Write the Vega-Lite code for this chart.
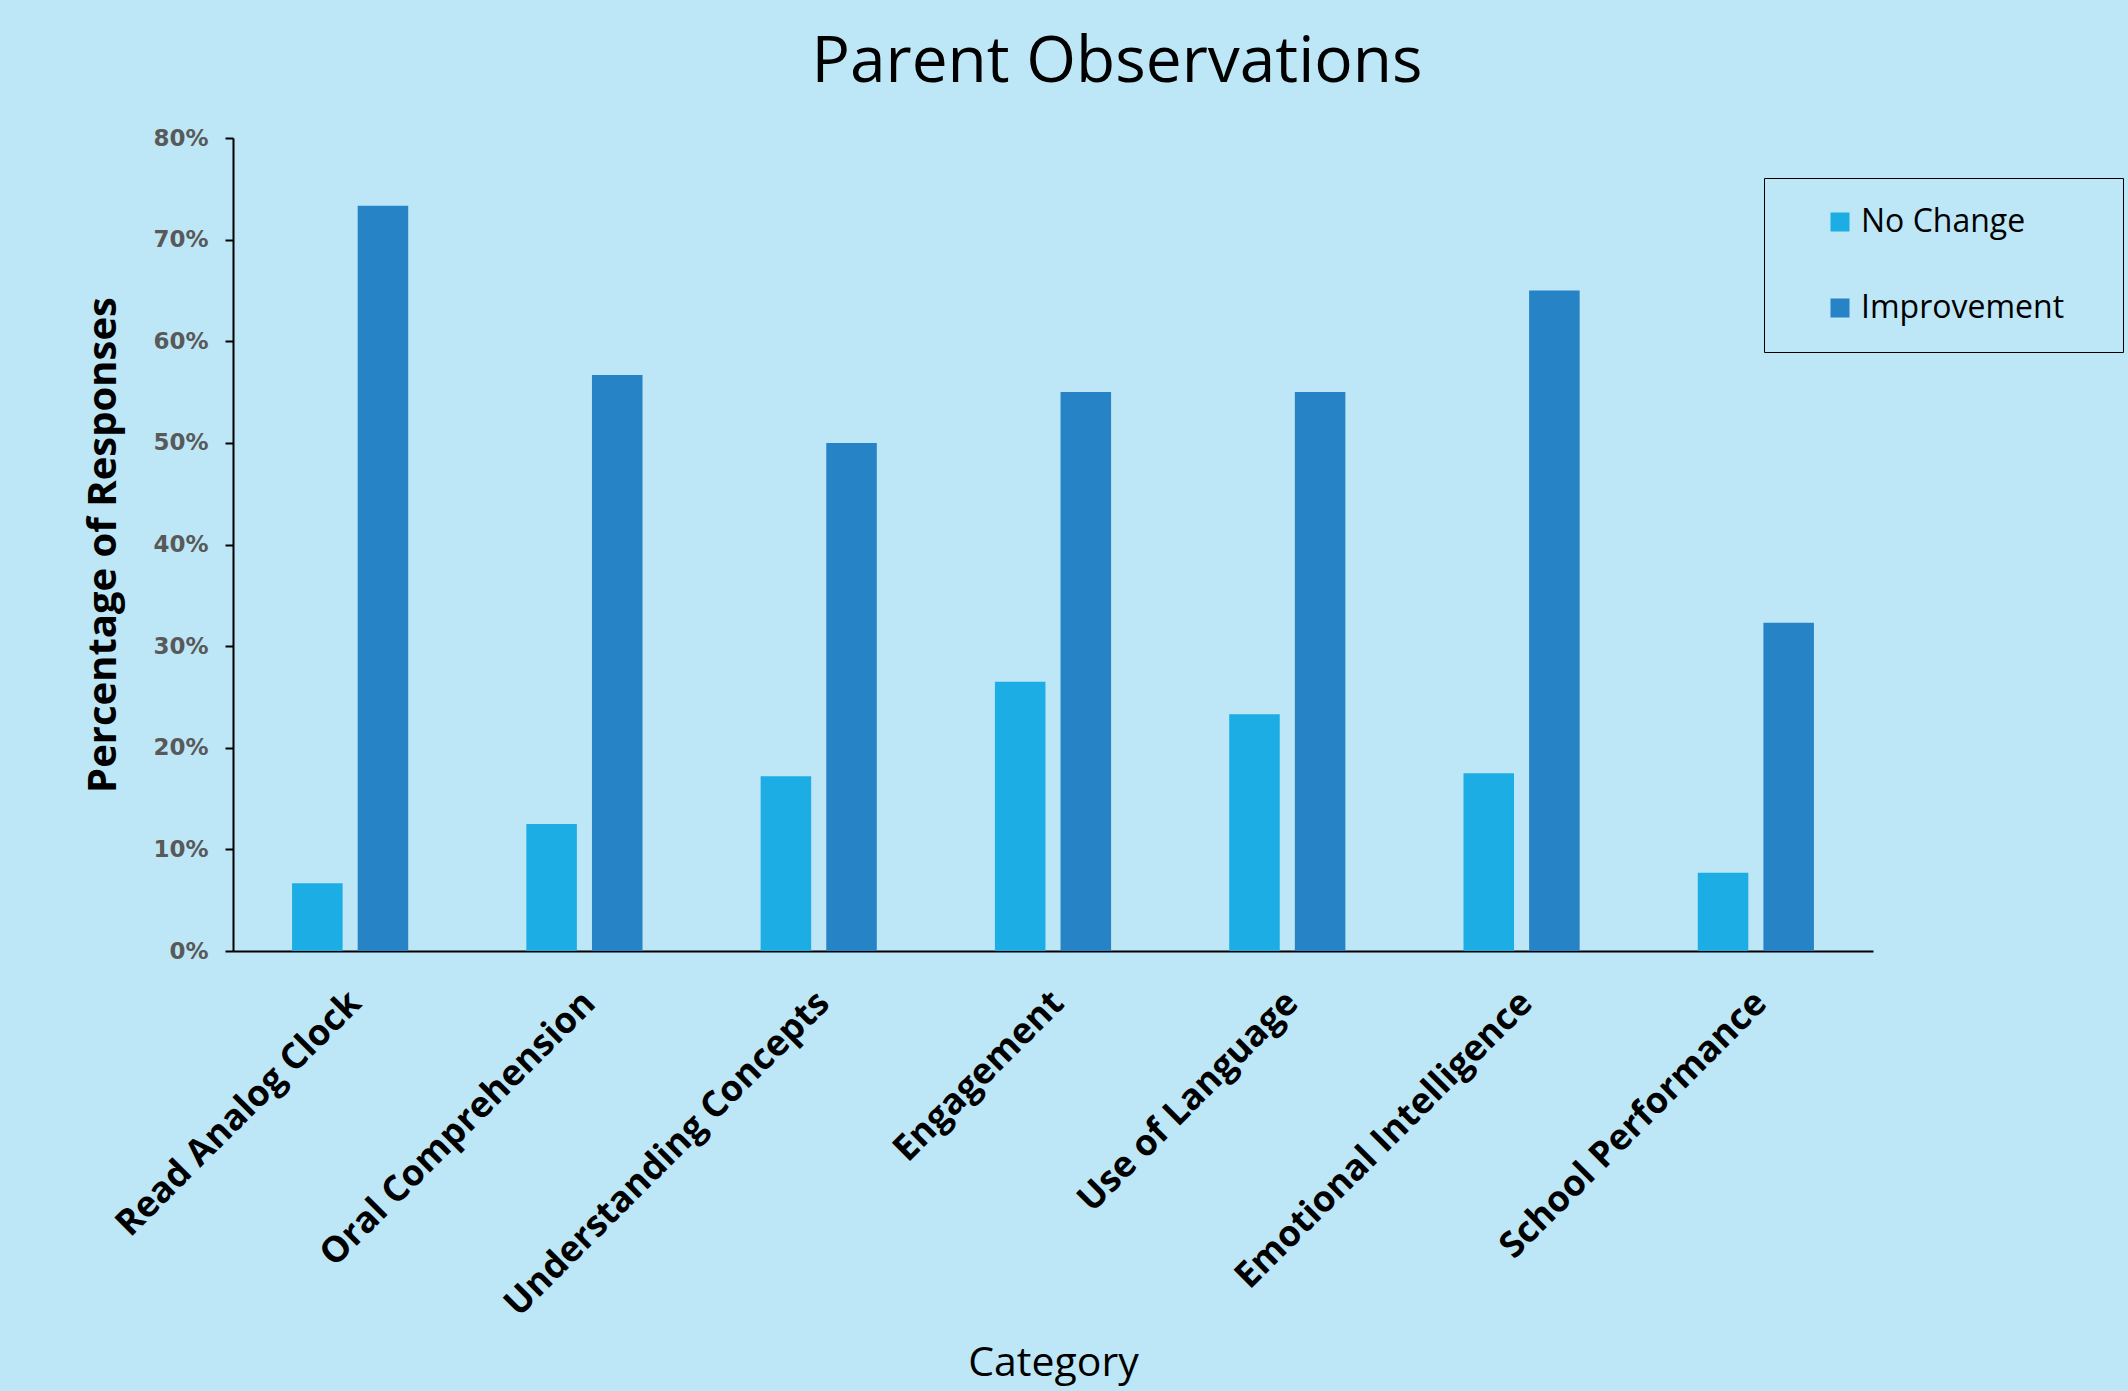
{
  "$schema": "https://vega.github.io/schema/vega-lite/v6.json",
  "width": 1640,
  "height": 813,
  "autosize": {"type": "none"},
  "padding": {"left": 233, "top": 138, "right": 255, "bottom": 440},
  "background": "#BDE7F7",
  "title": {
    "text": "Parent Observations",
    "font": "Open Sans",
    "fontSize": 64,
    "fontWeight": "normal",
    "color": "#000000",
    "anchor": "middle",
    "baseline": "alphabetic",
    "offset": -19,
    "dx": 64
  },
  "data": {
    "values": [
      {"category": "Read Analog Clock", "series": "No Change", "value": 0.0667},
      {"category": "Read Analog Clock", "series": "Improvement", "value": 0.7333},
      {"category": "Oral Comprehension", "series": "No Change", "value": 0.125},
      {"category": "Oral Comprehension", "series": "Improvement", "value": 0.5667},
      {"category": "Understanding Concepts", "series": "No Change", "value": 0.172},
      {"category": "Understanding Concepts", "series": "Improvement", "value": 0.5},
      {"category": "Engagement", "series": "No Change", "value": 0.265},
      {"category": "Engagement", "series": "Improvement", "value": 0.55},
      {"category": "Use of Language", "series": "No Change", "value": 0.233},
      {"category": "Use of Language", "series": "Improvement", "value": 0.55},
      {"category": "Emotional Intelligence", "series": "No Change", "value": 0.175},
      {"category": "Emotional Intelligence", "series": "Improvement", "value": 0.65},
      {"category": "School Performance", "series": "No Change", "value": 0.077},
      {"category": "School Performance", "series": "Improvement", "value": 0.323}
    ]
  },
  "mark": {"type": "bar"},
  "encoding": {
    "x": {
      "field": "category",
      "type": "nominal",
      "sort": null,
      "scale": {"paddingInner": 0, "paddingOuter": 0},
      "axis": {
        "title": "Category",
        "titleFont": "Open Sans",
        "titleFontSize": 41,
        "titleFontWeight": "normal",
        "titleColor": "#000000",
        "titlePadding": 192,
        "labelAngle": -45,
        "labelAlign": "right",
        "labelBaseline": "middle",
        "labelFont": "Open Sans",
        "labelFontWeight": "bold",
        "labelFontSize": 36,
        "labelColor": "#000000",
        "labelPadding": 46,
        "labelOffset": 5,
        "labelLimit": 1000,
        "ticks": false,
        "domainColor": "#000000",
        "domainWidth": 2,
        "grid": false
      }
    },
    "xOffset": {
      "field": "series",
      "type": "nominal",
      "sort": ["No Change", "Improvement"],
      "scale": {"paddingInner": 0.23, "paddingOuter": 0.9}
    },
    "y": {
      "field": "value",
      "type": "quantitative",
      "scale": {"domain": [0, 0.8], "nice": false},
      "axis": {
        "title": "Percentage of Responses",
        "titleFont": "Open Sans",
        "titleFontSize": 40,
        "titleFontWeight": "bold",
        "titleColor": "#000000",
        "titlePadding": 29,
        "values": [0, 0.1, 0.2, 0.3, 0.4, 0.5, 0.6, 0.7, 0.8],
        "format": ".0%",
        "labelFont": "DejaVu Sans",
        "labelFontWeight": "bold",
        "labelFontSize": 23,
        "labelColor": "#595959",
        "labelPadding": 17,
        "tickColor": "#000000",
        "tickSize": 8,
        "tickWidth": 2,
        "domainColor": "#000000",
        "domainWidth": 2,
        "grid": false
      }
    },
    "color": {
      "field": "series",
      "type": "nominal",
      "sort": ["No Change", "Improvement"],
      "scale": {"domain": ["No Change", "Improvement"], "range": ["#1CADE4", "#2683C6"]},
      "legend": {
        "orient": "none",
        "legendX": 1531,
        "legendY": 40,
        "direction": "vertical",
        "title": "\u00a0",
        "titleOrient": "right",
        "titlePadding": 31,
        "titleFontSize": 32,
        "titleFont": "Open Sans",
        "strokeColor": "#000000",
        "padding": 28,
        "symbolType": "square",
        "symbolSize": 361,
        "symbolStrokeWidth": 0,
        "symbolOffset": 32,
        "labelFont": "Open Sans",
        "labelFontSize": 32,
        "labelColor": "#000000",
        "labelOffset": 5,
        "labelLimit": 500,
        "rowPadding": 54
      }
    }
  },
  "config": {
    "view": {"stroke": null}
  }
}
